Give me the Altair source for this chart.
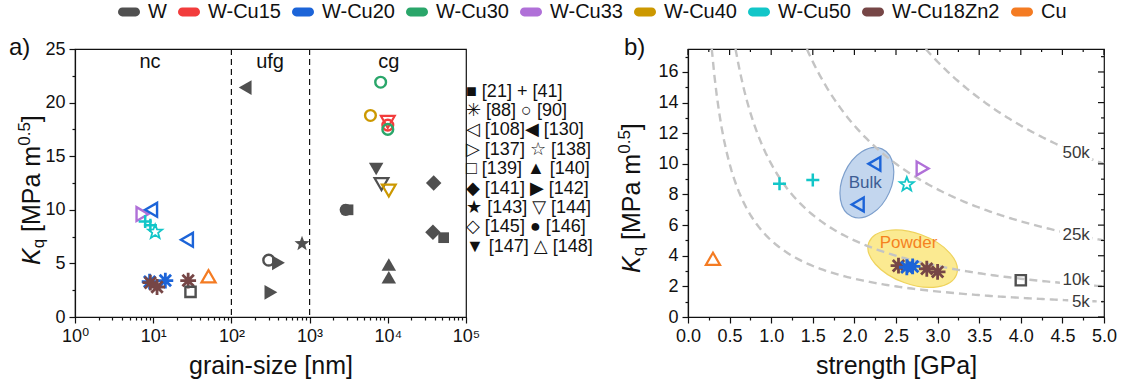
import altair as alt
import numpy as np
import pandas as pd

FONT = "Liberation Sans, Arial, DejaVu Sans"
INK = "#111111"

# ---------------------------------------------------------------- alloys
alloys = ["W", "W-Cu15", "W-Cu20", "W-Cu30", "W-Cu33", "W-Cu40", "W-Cu50", "W-Cu18Zn2", "Cu"]
alloy_colors = ["#505050", "#f23c3c", "#1c64d8", "#2aa66a", "#b070d8", "#cc9800", "#12c6c8", "#764646", "#f47b22"]

# ---------------------------------------------------------------- a) Kq vs grain size
gs_nm = [150, 8100, 6000, 10000, 10000, 10000, 7100, 8300, 10300, 38600,
         2900, 3100, 37800, 51800, 800, 300, 400, 320, 10300, 10300,
         7.3, 9.4, 7.9, 9.2, 10.6, 27, 9.0, 14.3, 9.2, 11.2, 28, 30, 51]
gs_kq = [21.4, 21.9, 18.8, 18.2, 17.9, 17.5, 13.8, 12.4, 11.8, 12.5,
         10.0, 10.0, 7.9, 7.4, 6.9, 5.3, 5.05, 2.3, 4.9, 3.7,
         9.6, 10.0, 8.9, 8.55, 8.0, 7.2, 3.3, 3.4, 3.2, 2.8, 3.4, 2.35, 3.8]
gs_alloy = ["W", "W-Cu30", "W-Cu40", "W-Cu15", "W-Cu15", "W-Cu30", "W", "W", "W-Cu40", "W",
            "W", "W", "W", "W", "W", "W", "W", "W", "W", "W",
            "W-Cu33", "W-Cu20", "W-Cu50", "W-Cu50", "W-Cu50", "W-Cu20", "W-Cu20", "W-Cu20",
            "W-Cu18Zn2", "W-Cu18Zn2", "W-Cu18Zn2", "W", "Cu"]
gs_marker = ["tl_f", "circ_o", "circ_o", "td_o", "circ_o", "circ_o", "td_f", "td_o", "td_o", "dia_f",
             "circ_f", "sq_f", "dia_f", "sq_f", "star_f", "circ_o", "tr_f", "tr_f", "tu_f", "tu_f",
             "tr_o", "tl_o", "plus", "plus", "star_o", "tl_o", "ast", "ast", "ast", "ast", "ast",
             "sq_o", "tu_o"]

regions = ["nc", "ufg", "cg"]
region_gs = [9.1, 312, 10300]
region_kq = [23.2, 23.2, 23.2]
region_bounds = [100, 1000]

# ---------------------------------------------------------------- b) Kq vs strength
st_gpa = [0.30, 1.10, 1.50, 2.24, 2.04, 2.63, 2.82, 4.00, 2.53, 2.87, 3.00, 2.63, 2.70]
st_kq = [3.8, 8.7, 8.95, 10.0, 7.35, 8.7, 9.7, 2.4, 3.35, 3.15, 2.95, 3.25, 3.3]
st_alloy = ["Cu", "W-Cu50", "W-Cu50", "W-Cu20", "W-Cu20", "W-Cu50", "W-Cu33", "W",
            "W-Cu18Zn2", "W-Cu18Zn2", "W-Cu18Zn2", "W-Cu20", "W-Cu20"]
st_marker = ["tu_o", "plus", "plus", "tl_o", "tl_o", "star_o", "tr_o", "sq_o",
             "ast", "ast", "ast", "ast", "ast"]

# iso-lines Kq * strength = const (MPa^2 m^0.5, in thousands)
iso_levels = [5, 10, 25, 50]
iso_labels = ["5k", "10k", "25k", "50k"]
iso_label_kq = [0.95, 2.4, 5.35, 10.7]
iso_label_gpa = 4.83

groups = ["Bulk", "Powder"]
group_gpa = [2.15, 2.70]
group_kq = [8.77, 3.81]
group_text_gpa = [2.13, 2.65]
group_text_kq = [8.75, 4.82]
group_text_colors = ["#3d5d94", "#f5821f"]

# reference key beside panel a) (U+FE0E keeps the symbols in plain text style)
VS = "\ufe0e"
marker_rows = [f"■{VS} [21] +{VS} [41]", f"✳{VS} [88] ○{VS} [90]", f"◁{VS} [108]◀{VS} [130]",
               f"▷{VS} [137] ☆{VS} [138]", f"□{VS} [139] ▲{VS} [140]", f"◆{VS} [141] ▶{VS} [142]",
               f"★{VS} [143] ▽{VS} [144]", f"◇{VS} [145] ●{VS} [146]", f"▼{VS} [147] △{VS} [148]"]

# ---------------------------------------------------------------- marker styles
PLUS = "M-1,0L1,0M0,-1L0,1"
AST = "M-1,0L1,0M0,-1L0,1M-0.72,-0.72L0.72,0.72M-0.72,0.72L0.72,-0.72"
_pts = []
for i in range(10):
    r = 1.0 if i % 2 == 0 else 0.42
    a = -np.pi / 2 + i * np.pi / 5
    _pts.append(f"{r * np.cos(a):.3f},{r * np.sin(a) + 0.09:.3f}")
STAR = "M" + "L".join(_pts) + "Z"
PILL = "M-0.6,-0.4L0.6,-0.4A0.4,0.4 0 0 1 0.6,0.4L-0.6,0.4A0.4,0.4 0 0 1 -0.6,-0.4Z"

# key -> (shape, symbol area, stroke width, filled)
MARKER_STYLE = {
    "sq_f": ("square", 115, 0, True),
    "plus": (PLUS, 170, 2.5, False),
    "ast": (AST, 250, 2.8, False),
    "circ_o": ("circle", 115, 2.4, False),
    "tl_o": ("triangle-left", 190, 2.4, False),
    "tl_f": ("triangle-left", 220, 0, True),
    "tr_o": ("triangle-right", 190, 2.4, False),
    "star_o": (STAR, 220, 1.8, False),
    "sq_o": ("square", 105, 2.4, False),
    "tu_f": ("triangle-up", 210, 0, True),
    "dia_f": ("diamond", 240, 0, True),
    "tr_f": ("triangle-right", 220, 0, True),
    "star_f": (STAR, 250, 0, True),
    "td_o": ("triangle-down", 190, 2.2, False),
    "dia_o": ("diamond", 190, 2.2, False),
    "circ_f": ("circle", 150, 0, True),
    "td_f": ("triangle-down", 210, 0, True),
    "tu_o": ("triangle-up", 200, 2.2, False),
}
marker_keys = list(MARKER_STYLE)

color = alt.Color(
    "alloy:N",
    scale=alt.Scale(domain=alloys, range=alloy_colors),
    legend=alt.Legend(
        orient="none", direction="horizontal", columns=9, legendX=43, legendY=-48,
        title=None, symbolType=PILL, symbolSize=484, symbolStrokeWidth=0,
        labelFont=FONT, labelFontSize=20, labelColor=INK, labelOffset=8,
        columnPadding=11, padding=0,
    ),
)
shape = alt.Shape("marker:N", scale=alt.Scale(domain=marker_keys,
                                              range=[MARKER_STYLE[k][0] for k in marker_keys]), legend=None)


def point_layers(df, X, Y):
    df = df.copy()
    df["area"] = [MARKER_STYLE[m][1] for m in df["marker"]]
    df["sw"] = [MARKER_STYLE[m][2] for m in df["marker"]]
    is_filled = np.array([MARKER_STYLE[m][3] for m in df["marker"]])
    filled = alt.Chart(df[is_filled]).mark_point(filled=True, opacity=1, strokeWidth=0).encode(
        X, Y, color, shape, size=alt.Size("area:Q", scale=None))
    hollow = alt.Chart(df[~is_filled]).mark_point(filled=False, opacity=1).encode(
        X, Y, color, shape, size=alt.Size("area:Q", scale=None),
        strokeWidth=alt.StrokeWidth("sw:Q", scale=None))
    return [filled, hollow]


ADV = {"K": .667, "q": .556, " ": .278, "[": .278, "M": .833, "P": .667, "a": .556,
       "m": .833, "0": .556, ".": .278, "5": .556, "]": .278}


def text_w(s, fs):
    return sum(ADV[c] for c in s) * fs


def kq_title(x0, y0, big=25, small=17):
    """Rotated 'Kq [MPa m0.5]' built from pieces (italic K, subscript q, superscript 0.5)."""
    pieces = [("K", big, 0, "italic", 0.0), ("q", small, 4, "normal", 0.0),
              ("[MPa m", big, 0, "normal", text_w(" ", big)), ("0.5", small, -10, "normal", 0.0),
              ("]", big, 0, "normal", 0.0)]
    layers = []
    y = y0
    prev_w = 0.0
    for txt, fs, shift, style, lead in pieces:
        y = y - prev_w - lead
        layers.append(
            alt.Chart(pd.DataFrame({"t": [txt]})).mark_text(
                angle=270, align="left", baseline="alphabetic", font=FONT, fontSize=fs,
                fontStyle=style, color=INK,
            ).encode(x=alt.value(x0 + shift), y=alt.value(y), text="t:N")
        )
        prev_w = text_w(txt, fs)
    return layers


def panel_label(txt, x, y):
    return alt.Chart(pd.DataFrame({"t": [txt]})).mark_text(
        align="left", baseline="alphabetic", font=FONT, fontSize=24, color=INK
    ).encode(x=alt.value(x), y=alt.value(y), text="t:N")


def tick_size(test, major=6, minor=3):
    return {"condition": {"test": test, "value": major}, "value": minor}


# ---------------------------------------------------------------- panel a)
W_L, H = 391, 268
log_ticks = [m * 10 ** e for e in range(0, 5) for m in range(1, 10)] + [100000]
is_pow = "abs(log(datum.value)/LN10 - round(log(datum.value)/LN10)) < 1e-6"
X_L = alt.X(
    "x:Q",
    scale=alt.Scale(type="log", domain=[1, 100000], nice=False),
    axis=alt.Axis(
        values=log_ticks, title="grain-size [nm]", labelFlush=False, labelOverlap=False,
        labelExpr=f"{is_pow} ? '10' + ['⁰','¹','²','³','⁴','⁵'][round(log(datum.value)/LN10)] : ''",
        tickSize=tick_size(is_pow),
    ),
)
Y_L = alt.Y(
    "y:Q",
    scale=alt.Scale(domain=[0, 25], nice=False),
    axis=alt.Axis(
        values=[2.5 * i for i in range(11)], title=None, labelOverlap=False, labelFlush=False,
        labelExpr="datum.value % 5 === 0 ? datum.label : ''",
        tickSize=tick_size("datum.value % 5 === 0"),
    ),
)

df_gs = pd.DataFrame({"x": gs_nm, "y": gs_kq, "alloy": gs_alloy, "marker": gs_marker})
bounds_rules = alt.Chart(pd.DataFrame({"x": region_bounds})).mark_rule(
    color=INK, strokeDash=[6, 4], strokeWidth=1.2).encode(X_L)
region_text = alt.Chart(pd.DataFrame({"x": region_gs, "y": region_kq, "t": regions})).mark_text(
    font=FONT, fontSize=20, color=INK, baseline="alphabetic").encode(X_L, Y_L, text="t:N")

left = alt.layer(
    bounds_rules, region_text, *point_layers(df_gs, X_L, Y_L),
    panel_label("a)", -66, 6), *kq_title(-35, 216),
).properties(width=W_L, height=H)

# ---------------------------------------------------------------- reference key
key = alt.Chart(pd.DataFrame({"row": list(range(len(marker_rows))), "t": marker_rows})).mark_text(
    align="left", baseline="middle", font=FONT, fontSize=18, color=INK
).encode(
    x=alt.value(0),
    y=alt.Y("row:O", axis=None, scale=alt.Scale(type="point", range=[42.7, 197.7], padding=0)),
    text="t:N",
).properties(width=222, height=H, view=alt.ViewBackground(stroke="transparent"))

# ---------------------------------------------------------------- panel b)
W_R = 416
x_ticks = [0.25 * i for i in range(21)]
y_ticks = list(range(18))
X_R = alt.X(
    "x:Q",
    scale=alt.Scale(domain=[0, 5], nice=False),
    axis=alt.Axis(
        values=x_ticks, title="strength [GPa]", labelFlush=False, labelOverlap=False,
        labelExpr="datum.value % 0.5 === 0 ? format(datum.value, '.1f') : ''",
        tickSize=tick_size("datum.value % 0.5 === 0"),
    ),
)
Y_R = alt.Y(
    "y:Q",
    scale=alt.Scale(domain=[0, 17.5], nice=False),
    axis=alt.Axis(
        values=y_ticks, title=None, labelOverlap=False, labelFlush=False,
        labelExpr="datum.value % 2 === 0 ? datum.label : ''",
        tickSize=tick_size("datum.value % 2 === 0"),
    ),
)

iso_rows = []
for lev in iso_levels:
    for s in np.linspace(lev / 17.5, 5.0, 160):
        iso_rows.append({"level": lev, "x": s, "y": lev / s})
df_iso = pd.DataFrame(iso_rows)
iso_lines = alt.Chart(df_iso).mark_line(
    color="#c4c4c4", strokeDash=[8, 5], strokeWidth=2.4).encode(X_R, Y_R, detail="level:N")

# white boxes behind the iso-line labels
lab_w = [0.26 if len(t) == 2 else 0.36 for t in iso_labels]
df_box = pd.DataFrame({
    "x": [iso_label_gpa - w for w in lab_w], "x1": [iso_label_gpa + 0.03] * 4,
    "y": [k - 0.45 for k in iso_label_kq], "y1": [k + 0.45 for k in iso_label_kq],
})
lab_boxes = alt.Chart(df_box).mark_rect(color="white").encode(X_R, Y_R, x2="x1:Q", y2="y1:Q")
df_lab = pd.DataFrame({"t": iso_labels, "y": iso_label_kq, "x": [iso_label_gpa] * 4})
lab_text = alt.Chart(df_lab).mark_text(
    align="right", baseline="middle", font=FONT, fontSize=17, color="#3a3a3a").encode(X_R, Y_R, text="t:N")

bulk = alt.Chart(pd.DataFrame({"x": [group_gpa[0]], "y": [group_kq[0]]})).mark_point(
    filled=True, shape="M-1,0A1,0.66 0 1,0 1,0A1,0.66 0 1,0 -1,0Z", size=5476, angle=114,
    fill="#c3d6ee", stroke="#7d9fcc", strokeWidth=1.2, opacity=1).encode(X_R, Y_R)
powder = alt.Chart(pd.DataFrame({"x": [group_gpa[1]], "y": [group_kq[1]]})).mark_point(
    filled=True, shape="M-1,0A1,0.544 0 1,0 1,0A1,0.544 0 1,0 -1,0Z", size=8724, angle=20,
    fill="#fbea91", stroke="#efd35c", strokeWidth=1.2, opacity=1).encode(X_R, Y_R)
group_text = [
    alt.Chart(pd.DataFrame({"x": [gx], "y": [gy], "t": [g]})).mark_text(
        font=FONT, fontSize=17, baseline="middle", color=gc).encode(X_R, Y_R, text="t:N")
    for g, gx, gy, gc in zip(groups, group_text_gpa, group_text_kq, group_text_colors)
]

# inward ticks on the top and right frame
x_major = [v for i, v in enumerate(x_ticks) if i % 2 == 0]
x_minor = [v for i, v in enumerate(x_ticks) if i % 2 == 1]
y_major = [v for v in y_ticks if v % 2 == 0]
y_minor = [v for v in y_ticks if v % 2 == 1]


def top_ticks(vals, length):
    return alt.Chart(pd.DataFrame({"x": vals})).mark_rule(color=INK, strokeWidth=1.2).encode(
        X_R, y=alt.value(0), y2=alt.value(length))


def right_ticks(vals, length):
    return alt.Chart(pd.DataFrame({"y": vals})).mark_rule(color=INK, strokeWidth=1.2).encode(
        Y_R, x=alt.value(W_R), x2=alt.value(W_R - length))


df_st = pd.DataFrame({"x": st_gpa, "y": st_kq, "alloy": st_alloy, "marker": st_marker})
right = alt.layer(
    bulk, powder, iso_lines, lab_boxes, lab_text,
    top_ticks(x_major, 6), top_ticks(x_minor, 3), right_ticks(y_major, 6), right_ticks(y_minor, 3),
    *point_layers(df_st, X_R, Y_R), *group_text,
    panel_label("b)", -64, 6), *kq_title(-48, 224),
).properties(width=W_R, height=H)

chart = alt.hconcat(left, key, right, spacing=0, bounds="flush").properties(
    padding={"left": 8, "top": 1, "right": 2, "bottom": 2}
).configure_view(
    stroke=INK, strokeWidth=1.2
).configure_axis(
    labelFont=FONT, labelFontSize=18, labelColor=INK, labelPadding=4,
    titleFont=FONT, titleFontSize=25, titleFontWeight="normal", titleColor=INK, titlePadding=8,
    domainColor=INK, domainWidth=1.2, tickColor=INK, tickWidth=1.2, grid=False,
)

chart.save("out.html", embed_options={"renderer": "svg", "actions": False})
